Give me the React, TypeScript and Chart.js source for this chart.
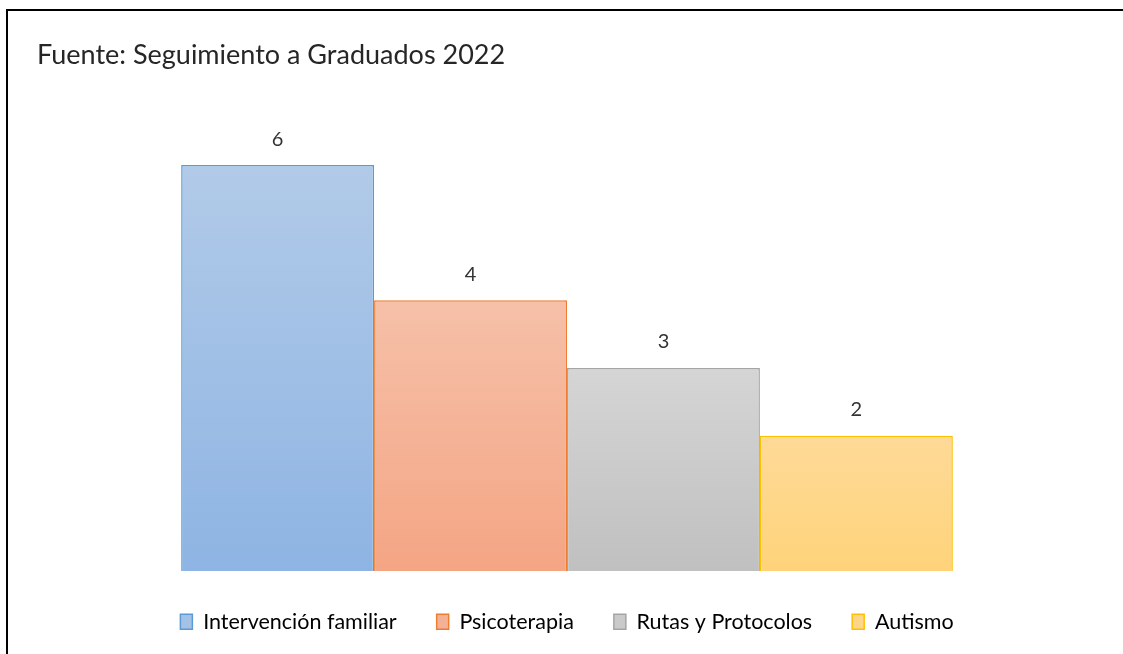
import React, { useEffect, useRef } from "react";
import { Chart, registerables } from "chart.js";

Chart.register(...registerables);

const categories = ["Graduados 2022"];
const seriesNames = ["Intervención familiar", "Psicoterapia", "Rutas y Protocolos", "Autismo"];
const seriesValues = [6, 4, 3, 2];
const titleText = "Fuente: Seguimiento a Graduados 2022";

const borderColors = ["#5B9BD5", "#ED7D31", "#A5A5A5", "#FFC000"];
const gradTop = ["#B1CAE8", "#F6C0A8", "#D5D5D5", "#FEDA98"];
const gradBottom = ["#8EB4E3", "#F4A584", "#C0C0C0", "#FED37A"];
const legendFill = ["#A4C2E6", "#F5B196", "#CACACA", "#FED689"];

const FONT = "Lato, 'Open Sans', sans-serif";

const dataLabels = {
  id: "dataLabels",
  afterDatasetsDraw(chart: any) {
    const ctx = chart.ctx;
    ctx.save();
    ctx.font = `20px ${FONT}`;
    ctx.fillStyle = "#333333";
    ctx.textAlign = "center";
    ctx.textBaseline = "middle";
    chart.data.datasets.forEach((ds: any, i: number) => {
      const meta = chart.getDatasetMeta(i);
      meta.data.forEach((el: any, j: number) => {
        ctx.fillText(String(ds.data[j]), el.x, el.y - 26);
      });
    });
    ctx.restore();
  },
};

export default function App() {
  const ref = useRef<HTMLCanvasElement | null>(null);
  useEffect(() => {
    if (!ref.current) return;
    const chart = new Chart(ref.current, {
      type: "bar",
      data: {
        labels: categories,
        datasets: seriesNames.map((name, i) => ({
          label: name,
          data: [seriesValues[i]],
          borderColor: borderColors[i],
          borderWidth: 1.5,
          backgroundColor: (c: any) => {
            const chart = c.chart;
            const area = chart.chartArea;
            if (!area) return gradBottom[i];
            const y = chart.scales.y;
            const top = y.getPixelForValue(seriesValues[i]);
            const bottom = y.getPixelForValue(0);
            const g = chart.ctx.createLinearGradient(0, top, 0, bottom);
            g.addColorStop(0, gradTop[i]);
            g.addColorStop(1, gradBottom[i]);
            return g;
          },
          categoryPercentage: 0.728,
          barPercentage: 1,
        })),
      },
      options: {
        animation: false,
        responsive: false,
        maintainAspectRatio: false,
        layout: { padding: { left: 37, right: 26, top: 0, bottom: 11.5 } },
        scales: {
          x: { display: false },
          y: { display: false, min: 0, max: 7 },
        },
        plugins: {
          tooltip: { enabled: false },
          title: {
            display: true,
            text: titleText,
            align: "start",
            color: "#262626",
            font: { family: FONT, size: 27, weight: "normal" },
            padding: { top: 39, bottom: 26 },
          },
          legend: {
            position: "bottom",
            labels: {
              color: "#404040",
              font: { family: FONT, size: 21.5 },
              boxWidth: 12,
              boxHeight: 15,
              padding: 40,
              generateLabels: () =>
                seriesNames.map((n, i) => ({
                  text: n,
                  fillStyle: legendFill[i],
                  strokeStyle: borderColors[i],
                  lineWidth: 1.5,
                  hidden: false,
                  datasetIndex: i,
                })),
            },
          },
        },
      },
      plugins: [dataLabels],
    });
    return () => chart.destroy();
  }, []);

  return (
    <div style={{ position: "absolute", left: 0, top: 0, width: 1123, height: 654, background: "#fff" }}>
      <canvas ref={ref} width={1123} height={654} style={{ position: "absolute", left: 0, top: 0 }} />
      <div style={{ position: "absolute", left: 6, top: 9, width: 1117, height: 645, borderTop: "2px solid #000", borderLeft: "2px solid #000", pointerEvents: "none" }} />
    </div>
  );
}
